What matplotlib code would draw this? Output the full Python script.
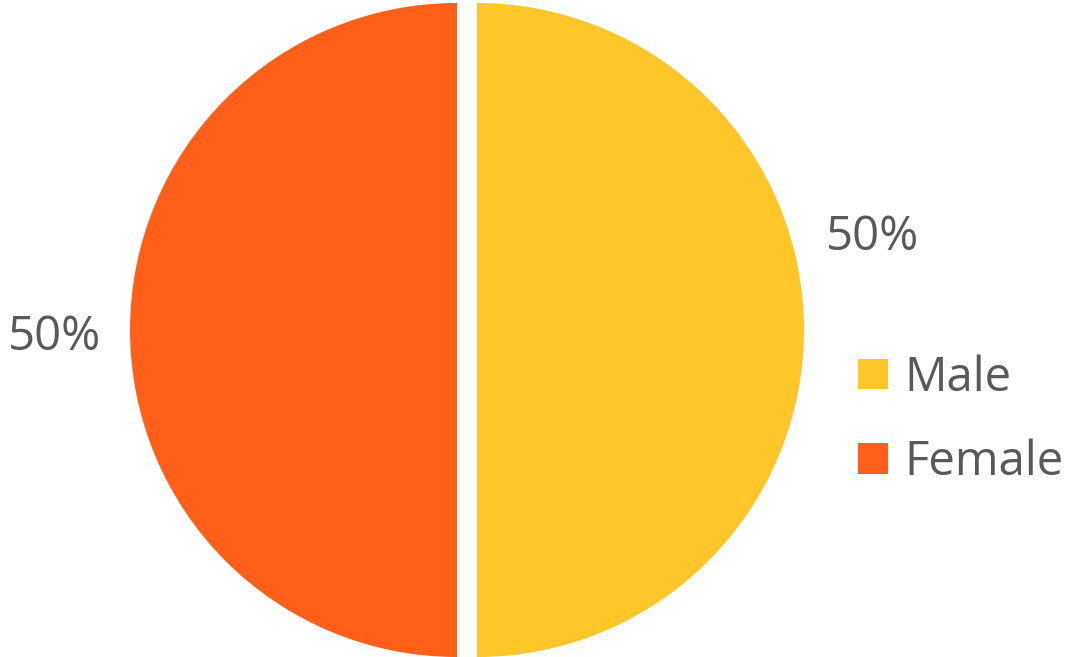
import matplotlib.pyplot as plt

# reparto por sexo
sexos = ["Male", "Female"]
valores = [50, 50]
colores = ["#FFC629", "#FF5F19"]
gris = "#595959"

plt.rcParams["font.family"] = ["Open Sans", "DejaVu Sans"]

fig = plt.figure(figsize=(10.86, 6.57), dpi=100)
ax = fig.add_axes([0, 0, 1, 1])

# pie en unidades de pixel, cada mitad separada 10 px del centro
cunas, textos = ax.pie(valores, colors=colores, startangle=90, counterclock=False,
                       center=(467, 327), radius=327, explode=[10, 10],
                       wedgeprops={"linewidth": 0})
ax.set_xlim(0, 1086)
ax.set_ylim(0, 657)
ax.set_aspect("equal")
ax.axis("off")

# etiquetas de porcentaje
total = sum(valores)
ax.text(873, 420, f"{valores[0] / total:.0%}", fontsize=34, color=gris,
        ha="center", va="center")
ax.text(55, 320, f"{valores[1] / total:.0%}", fontsize=34, color=gris,
        ha="center", va="center")

ley = ax.legend(cunas, sexos, loc="center left", bbox_to_anchor=(858 / 1086, 237 / 657),
                frameon=False, fontsize=34, handlelength=0.63, handleheight=0.63,
                handletextpad=0.35, labelspacing=0.78, borderpad=0, borderaxespad=0)
for t in ley.get_texts():
    t.set_color(gris)

fig.savefig("out.png", dpi=100)
